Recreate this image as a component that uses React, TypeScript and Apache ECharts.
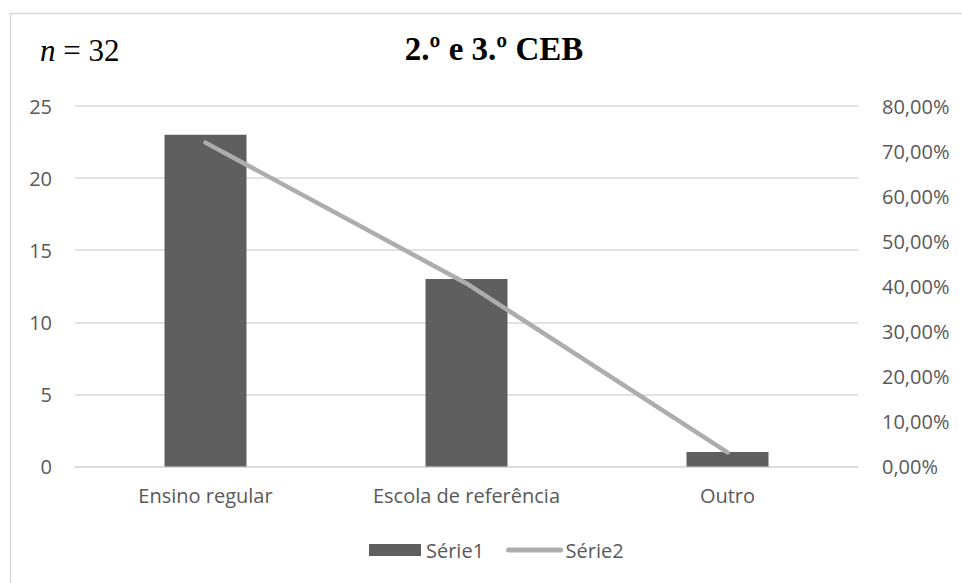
import React, { useEffect, useRef } from "react";
import * as echarts from "echarts";

const categories = ["Ensino regular", "Escola de referência", "Outro"];
const serie1 = [23, 13, 1];
const serie2 = [0.71875, 0.40625, 0.03125];
const leftTicks = { min: 0, max: 25, interval: 5 };
const rightTicks = { min: 0, max: 0.8, interval: 0.1 };

const FONT = "Open Sans";
const FS = 20;
const TXT = "#595959";
const GRID = "#d9d9d9";
const LINE = "#adadad";

export default function App() {
  const ref = useRef<HTMLDivElement>(null);
  useEffect(() => {
    if (!ref.current) return;
    const chart = echarts.init(ref.current, null, { renderer: "svg" });
    chart.setOption({
      animation: false,
      backgroundColor: "#ffffff",
      textStyle: { fontFamily: FONT },
      graphic: [
        {
          type: "rect",
          shape: { x: 10.5, y: 13.5, width: 980, height: 600 },
          style: { fill: "none", stroke: GRID, lineWidth: 1.5 },
          silent: true,
        },
        {
          type: "text",
          x: 40,
          y: 66,
          style: {
            text: "{i|n} = 32",
            rich: {
              i: { fontFamily: "Liberation Serif", fontStyle: "italic", fontSize: 31, fill: "#000" },
            },
            fontFamily: "Liberation Serif",
            fontSize: 31,
            fill: "#000",
            verticalAlign: "bottom",
          },
        },
        {
          type: "text",
          x: 494,
          y: 65,
          style: {
            text: "2.º e 3.º CEB",
            fontFamily: "Liberation Serif",
            fontWeight: "bold",
            fontSize: 33,
            fill: "#000",
            align: "center",
            verticalAlign: "bottom",
          },
        },
      ],
      grid: { left: 75, right: 104, top: 106, bottom: 116.5, containLabel: false },
      legend: {
        bottom: 18,
        left: 364,
        itemWidth: 52,
        itemHeight: 12,
        itemGap: 22,
        textStyle: { color: TXT, fontSize: FS, fontFamily: FONT },
        data: [
          { name: "Série1", icon: "rect" },
          {
            name: "Série2",
            itemStyle: { opacity: 0, borderWidth: 0 },
            lineStyle: { width: 5, color: LINE, cap: "round" },
          },
        ],
      },
      xAxis: {
        type: "category",
        data: categories,
        axisTick: { show: false },
        axisLine: { lineStyle: { color: GRID, width: 1.5 } },
        axisLabel: { color: TXT, fontSize: FS, fontFamily: FONT, margin: 19 },
      },
      yAxis: [
        {
          type: "value",
          min: leftTicks.min,
          max: leftTicks.max,
          interval: leftTicks.interval,
          axisLabel: { color: TXT, fontSize: FS, fontFamily: FONT, margin: 23 },
          axisLine: { show: false },
          axisTick: { show: false },
          splitLine: { lineStyle: { color: GRID, width: 1.5 } },
        },
        {
          type: "value",
          min: rightTicks.min,
          max: rightTicks.max,
          interval: rightTicks.interval,
          position: "right",
          axisLabel: {
            color: TXT,
            fontSize: FS,
            fontFamily: FONT,
            margin: 24,
            formatter: (v: number) => (v * 100).toFixed(2).replace(".", ",") + "%",
          },
          axisLine: { show: false },
          axisTick: { show: false },
          splitLine: { show: false },
        },
      ],
      series: [
        {
          name: "Série1",
          type: "bar",
          data: serie1,
          barWidth: 82,
          itemStyle: { color: "#5f5f5f" },
          yAxisIndex: 0,
        },
        {
          name: "Série2",
          type: "line",
          data: serie2,
          yAxisIndex: 1,
          symbol: "none",
          lineStyle: { color: LINE, width: 4.5, cap: "round" },
          itemStyle: { color: LINE },
        },
      ],
    });
    return () => chart.dispose();
  }, []);
  return (
    <div
      ref={ref}
      style={{ position: "absolute", left: 0, top: 0, width: 962, height: 583 }}
    />
  );
}
